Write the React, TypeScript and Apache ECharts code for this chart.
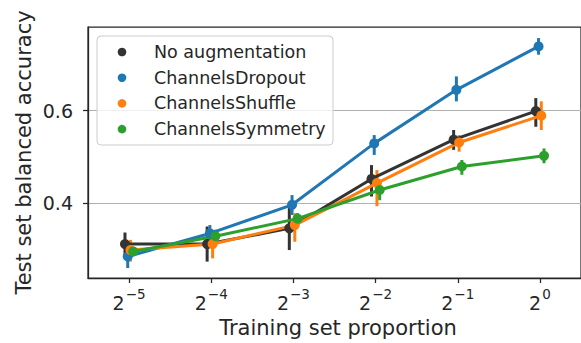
import React, { useEffect, useRef } from "react";
import * as echarts from "echarts";

// Exponents of the training-set proportions 2^-5 ... 2^0
const proportionExponents = ["\u22125", "\u22124", "\u22123", "\u22122", "\u22121", "0"];

const seriesNames = ["No augmentation", "ChannelsDropout", "ChannelsShuffle", "ChannelsSymmetry"];
const seriesColors = ["#333333", "#1f77b4", "#ff7f0e", "#2ca02c"];

// Mean balanced accuracy per proportion
const noAugMean = [0.311, 0.311, 0.345, 0.452, 0.537, 0.599];
const dropoutMean = [0.284, 0.334, 0.396, 0.529, 0.645, 0.739];
const shuffleMean = [0.298, 0.311, 0.352, 0.443, 0.531, 0.589];
const symmetryMean = [0.295, 0.328, 0.366, 0.428, 0.479, 0.502];

// Confidence interval bounds
const noAugLow = [0.284, 0.273, 0.298, 0.414, 0.515, 0.565];
const noAugHigh = [0.336, 0.349, 0.389, 0.482, 0.558, 0.627];
const dropoutLow = [0.259, 0.316, 0.374, 0.504, 0.620, 0.721];
const dropoutHigh = [0.305, 0.352, 0.417, 0.547, 0.674, 0.757];
const shuffleLow = [0.273, 0.280, 0.316, 0.393, 0.511, 0.558];
const shuffleHigh = [0.320, 0.338, 0.378, 0.471, 0.547, 0.620];
const symmetryLow = [0.287, 0.315, 0.352, 0.406, 0.461, 0.486];
const symmetryHigh = [0.303, 0.342, 0.378, 0.446, 0.493, 0.518];

const yTickValues = [0.4, 0.6];

const means = [noAugMean, dropoutMean, shuffleMean, symmetryMean];
const lows = [noAugLow, dropoutLow, shuffleLow, symmetryLow];
const highs = [noAugHigh, dropoutHigh, shuffleHigh, symmetryHigh];

const FONT = "DejaVu Sans";
const TEXT = "#262626";

export default function App() {
  const ref = useRef<HTMLDivElement>(null);

  useEffect(() => {
    if (!ref.current) return;
    const chart = echarts.init(ref.current, null, { renderer: "svg" });

    const nHue = seriesNames.length;
    const dodgeWidth = 0.025 * nHue;
    const offsets = seriesNames.map((_, i) => (nHue > 1 ? (dodgeWidth * i) / (nHue - 1) - dodgeWidth / 2 : 0));

    const series: any[] = [];
    seriesNames.forEach((name, h) => {
      const color = seriesColors[h];
      const pts = means[h].map((v, i) => [i + offsets[h], v]);
      series.push({
        type: "line",
        name,
        data: pts,
        symbol: "none",
        lineStyle: { color, width: 3 },
        z: 2,
        silent: true,
      });
      series.push({
        type: "custom",
        name: name + " ci",
        data: lows[h].map((lo, i) => [i + offsets[h], lo, highs[h][i]]),
        encode: { x: 0, y: [1, 2] },
        renderItem: (_p: any, api: any) => {
          const a = api.coord([api.value(0), api.value(1)]);
          const b = api.coord([api.value(0), api.value(2)]);
          return {
            type: "line",
            shape: { x1: a[0], y1: a[1], x2: b[0], y2: b[1] },
            style: { stroke: color, lineWidth: 3 },
          };
        },
        z: 2,
        silent: true,
      });
    });
    seriesNames.forEach((name, h) => {
      series.push({
        type: "scatter",
        name: name + " points",
        data: means[h].map((v, i) => [i + offsets[h], v]),
        symbol: "circle",
        symbolSize: 10,
        itemStyle: { color: seriesColors[h], opacity: 1 },
        z: 5,
        silent: true,
      });
    });

    const legendLeft = 97;
    const legendTop = 36;
    const rowGap = 25.7;
    const legendItems: any[] = [
      {
        type: "rect",
        shape: { x: legendLeft, y: legendTop, width: 236, height: 109, r: 4 },
        style: { fill: "rgba(255,255,255,0.8)", stroke: "#cccccc", lineWidth: 1 },
        z: 100,
      },
    ];
    seriesNames.forEach((name, h) => {
      const cy = legendTop + 16 + rowGap * h;
      legendItems.push({
        type: "circle",
        shape: { cx: legendLeft + 25, cy, r: 4.3 },
        style: { fill: seriesColors[h] },
        z: 101,
      });
      legendItems.push({
        type: "text",
        x: legendLeft + 57,
        y: cy,
        style: {
          text: name,
          fill: TEXT,
          font: `17.5px "${FONT}"`,
          verticalAlign: "middle",
          align: "left",
        },
        z: 101,
      });
    });

    chart.setOption({
      animation: false,
      backgroundColor: "#ffffff",
      grid: {
        left: 88,
        top: 27,
        bottom: 65,
        right: -7,
        show: true,
        borderColor: TEXT,
        borderWidth: 1.25,
        backgroundColor: "transparent",
      },
      xAxis: {
        type: "value",
        min: -0.5,
        max: 5.5,
        splitLine: { show: false },
        axisLine: { show: true, onZero: false, lineStyle: { color: TEXT, width: 1.25 } },
        axisTick: {
          show: true,
          length: 5,
          inside: false,
          customValues: proportionExponents.map((_, i) => i),
          lineStyle: { color: TEXT, width: 1.25 },
        },
        axisLabel: {
          customValues: proportionExponents.map((_, i) => i),
          margin: 9,
          formatter: (v: number) => `{b|2}{s|${proportionExponents[Math.round(v)]}}`,
          rich: {
            b: { fontFamily: FONT, fontSize: 19, color: TEXT, lineHeight: 25, verticalAlign: "bottom" },
            s: { fontFamily: FONT, fontSize: 13.5, color: TEXT, lineHeight: 14, verticalAlign: "top", padding: [0, 0, 0, 1] },
          },
        },
      },
      yAxis: {
        type: "value",
        min: 0.2375,
        max: 0.781,
        axisLine: { show: true, onZero: false, lineStyle: { color: TEXT, width: 1.25 } },
        axisTick: {
          show: true,
          length: 5,
          customValues: yTickValues,
          lineStyle: { color: TEXT, width: 1.25 },
        },
        splitLine: { show: true, lineStyle: { color: "#b0b0b0", width: 1.1 } },
        axisLabel: {
          customValues: yTickValues,
          margin: 15,
          fontFamily: FONT,
          fontSize: 19,
          color: TEXT,
          formatter: (v: number) => v.toFixed(1),
        },
      },
      graphic: [
        {
          type: "text",
          x: 24,
          y: 152.5,
          rotation: Math.PI / 2,
          style: {
            text: "Test set balanced accuracy",
            fill: TEXT,
            font: `21px "${FONT}"`,
            align: "center",
            verticalAlign: "middle",
          },
        },
        {
          type: "text",
          x: 338,
          y: 328,
          style: {
            text: "Training set proportion",
            fill: TEXT,
            font: `21px "${FONT}"`,
            align: "center",
            verticalAlign: "middle",
          },
        },
        ...legendItems,
      ],
      series,
    });

    return () => chart.dispose();
  }, []);

  return <div ref={ref} style={{ position: "absolute", left: 0, top: 0, width: 581, height: 343 }} />;
}
